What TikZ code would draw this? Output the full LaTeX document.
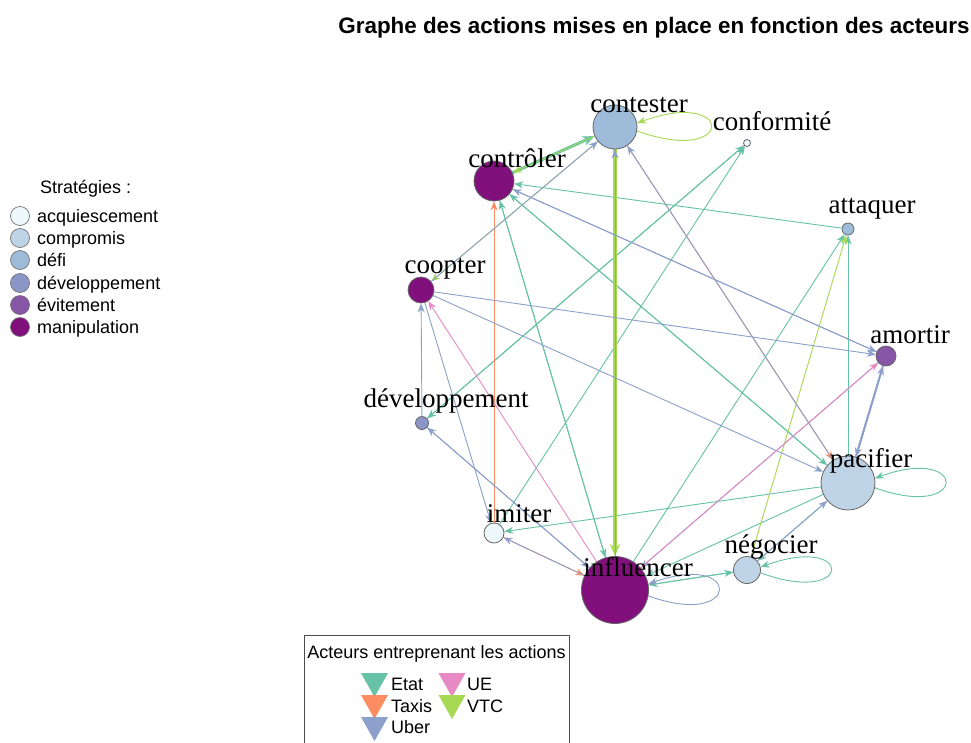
\documentclass[tikz,border=0pt]{standalone}
\usepackage{fontspec}
\setmainfont{Liberation Sans}
\newfontfamily\seriffont{Liberation Serif}
\usetikzlibrary{arrows.meta}
\pgfdeclarelayer{background}
\pgfsetlayers{background,main}
\definecolor{etat}{HTML}{66C2A5}
\definecolor{taxis}{HTML}{FC8D62}
\definecolor{uber}{HTML}{8DA0CB}
\definecolor{ue}{HTML}{E78AC3}
\definecolor{vtc}{HTML}{A6D854}
\definecolor{acq}{HTML}{EDF8FB}
\definecolor{comp}{HTML}{BFD3E6}
\definecolor{defi}{HTML}{9EBCDA}
\definecolor{devc}{HTML}{8C96C6}
\definecolor{evit}{HTML}{8856A7}
\definecolor{manip}{HTML}{810F7C}
\newcommand\lblfont{\seriffont\fontsize{27}{30}\selectfont}
\newcommand\legfont{\fontsize{18}{20}\selectfont}
\begin{document}
\begin{tikzpicture}[x=1pt,y=1pt,
  vtx/.style={circle,draw=black!60,line width=0.8pt,inner sep=0pt},
  lbl/.style={font=\lblfont,anchor=base,inner sep=0pt},
  legtxt/.style={font=\legfont,anchor=base west,inner sep=0pt},
  ed/.style={line width=0.9pt,-{Stealth[length=9pt,width=7pt]}},
  thickarr/.style={-{Stealth[length=12pt,width=10pt]}},
  legdot/.style={draw=black!55,line width=0.7pt}]
\useasboundingbox (0,0) rectangle (971,-742);

% vertices
\node[vtx,fill=defi,minimum size=44pt] (contester) at (615,-127) {};
\node[vtx,fill=acq,minimum size=7pt] (conformite) at (747,-143) {};
\node[vtx,fill=manip,minimum size=40pt] (controler) at (494,-181) {};
\node[vtx,fill=defi,minimum size=12pt] (attaquer) at (848,-229) {};
\node[vtx,fill=manip,minimum size=26pt] (coopter) at (421,-290) {};
\node[vtx,fill=evit,minimum size=20pt] (amortir) at (886,-356) {};
\node[vtx,fill=devc,minimum size=13pt] (developpement) at (422,-423) {};
\node[vtx,fill=comp,minimum size=54pt] (pacifier) at (848,-483) {};
\node[vtx,fill=acq,minimum size=20pt] (imiter) at (494,-533) {};
\node[vtx,fill=comp,minimum size=27pt] (negocier) at (747,-570) {};
\node[vtx,fill=manip,minimum size=67pt] (influencer) at (615,-590) {};

\begin{pgfonlayer}{background}
\fill[white] (0,0) rectangle (971,-742);
% Etat
\draw[ed,etat,line width=3pt,thickarr] (controler) -- (contester);
\draw[ed,etat] (attaquer) -- (controler);
\draw[ed,etat] (influencer) -- (controler);
\draw[ed,etat] (controler) -- (influencer);
\draw[ed,etat] (pacifier) -- (controler);
\draw[ed,etat] (controler) -- (pacifier);
\draw[ed,etat] (developpement) -- (conformite);
\draw[ed,etat] (conformite) -- (developpement);
\draw[ed,etat] (imiter) -- (conformite);
\draw[ed,etat] (influencer) -- (attaquer);
\draw[ed,etat] (pacifier) -- (attaquer);
\draw[ed,etat] (pacifier) -- (imiter);
\draw[ed,etat] (pacifier) -- (influencer);
\draw[ed,etat] (pacifier) -- (negocier);
\draw[ed,etat] (negocier) -- (influencer);
\draw[ed,etat] (influencer) -- (negocier);
\draw[ed,etat] (pacifier.-10) .. controls +(-20:100) and +(20:100) .. (pacifier.10);
\draw[ed,etat] (negocier.-12) .. controls +(-20:100) and +(20:100) .. (negocier.12);
% Taxis
\draw[ed,taxis] (imiter) -- (controler);
\draw[ed,taxis] (contester) -- (pacifier);
\draw[ed,taxis] (imiter) -- (influencer);
% VTC
\draw[ed,vtc] (contester) -- (controler);
\draw[ed,vtc] (contester) -- (coopter);
\draw[ed,vtc,line width=3.5pt,thickarr] (contester) -- (influencer);
\draw[ed,vtc] (negocier) -- (attaquer);
\draw[ed,vtc] (contester.-10) .. controls +(-20:105) and +(20:105) .. (contester.10);
% Uber
\draw[ed,uber] (influencer) -- (contester);
\draw[ed,uber] (coopter) -- (contester);
\draw[ed,uber] (pacifier) -- (contester);
\draw[ed,uber] (amortir) -- (controler);
\draw[ed,uber] (controler) -- (amortir);
\draw[ed,uber] (coopter) -- (amortir);
\draw[ed,uber] (coopter) -- (pacifier);
\draw[ed,uber] (developpement) -- (coopter);
\draw[ed,uber] (coopter) -- (imiter);
\draw[ed,uber] (influencer) -- (developpement);
\draw[ed,uber] (developpement) -- (influencer);
\draw[ed,uber] (influencer) -- (imiter);
\draw[ed,uber] (amortir) -- (influencer);
\draw[ed,uber,line width=1.8pt] (amortir) -- (pacifier);
\draw[ed,uber,line width=1.8pt] (pacifier) -- (amortir);
\draw[ed,uber] (negocier) -- (pacifier);
\draw[ed,uber] (influencer.-10) .. controls +(-20:100) and +(20:100) .. (influencer.10);
% UE
\draw[ed,ue] (influencer) -- (coopter);
\draw[ed,ue] (influencer) -- (amortir);
\end{pgfonlayer}

% vertex labels
\node[lbl] (l-contester) at (639,-112) {contester};
\node[lbl] (l-conformite) at (772,-130) {conformité};
\node[lbl] (l-controler) at (517,-167) {contrôler};
\node[lbl] (l-attaquer) at (872,-213) {attaquer};
\node[lbl] (l-coopter) at (445,-273) {coopter};
\node[lbl] (l-amortir) at (910,-343) {amortir};
\node[lbl] (l-developpement) at (446,-407) {développement};
\node[lbl] (l-pacifier) at (871,-467) {pacifier};
\node[lbl] (l-imiter) at (519,-522) {imiter};
\node[lbl] (l-negocier) at (771,-553) {négocier};
\node[lbl] (l-influencer) at (638,-576) {influencer};

% title
\node[font=\bfseries\fontsize{22.4}{24}\selectfont,anchor=base,inner sep=0pt] (title) at (654,-33) {Graphe des actions mises en place en fonction des acteurs};

% strategies legend
\node[legtxt] (s-title) at (40,-193) {Stratégies :};
\filldraw[legdot,fill=acq] (20,-216) circle (9.5);
\filldraw[legdot,fill=comp] (20,-238) circle (9.5);
\filldraw[legdot,fill=defi] (20,-260) circle (9.5);
\filldraw[legdot,fill=devc] (20,-283) circle (9.5);
\filldraw[legdot,fill=evit] (20,-305) circle (9.5);
\filldraw[legdot,fill=manip] (20,-327) circle (9.5);
\node[legtxt] (s-acq) at (37,-222) {acquiescement};
\node[legtxt] (s-comp) at (37,-244) {compromis};
\node[legtxt] (s-defi) at (37,-266) {défi};
\node[legtxt] (s-dev) at (37,-289) {développement};
\node[legtxt] (s-evit) at (37,-311) {évitement};
\node[legtxt] (s-manip) at (37,-333) {manipulation};

% actors legend
\draw[black!70,line width=0.8pt] (304,-745) -- (304,-635) -- (569,-635) -- (569,-745);
\node[font=\legfont,anchor=base,inner sep=0pt] (a-title) at (436.5,-658) {Acteurs entreprenant les actions};
\fill[etat] (361,-673) -- (388,-673) -- (374.5,-697) -- cycle;
\fill[taxis] (361,-695) -- (388,-695) -- (374.5,-719) -- cycle;
\fill[uber] (361,-717) -- (388,-717) -- (374.5,-741) -- cycle;
\fill[ue] (438.5,-673) -- (465.5,-673) -- (452,-697) -- cycle;
\fill[vtc] (438.5,-695) -- (465.5,-695) -- (452,-719) -- cycle;
\node[legtxt] (a-etat) at (391,-690) {Etat};
\node[legtxt] (a-taxis) at (391,-712) {Taxis};
\node[legtxt] (a-uber) at (391,-733) {Uber};
\node[legtxt] (a-ue) at (467,-690) {UE};
\node[legtxt] (a-vtc) at (467,-712) {VTC};
\end{tikzpicture}
\end{document}
